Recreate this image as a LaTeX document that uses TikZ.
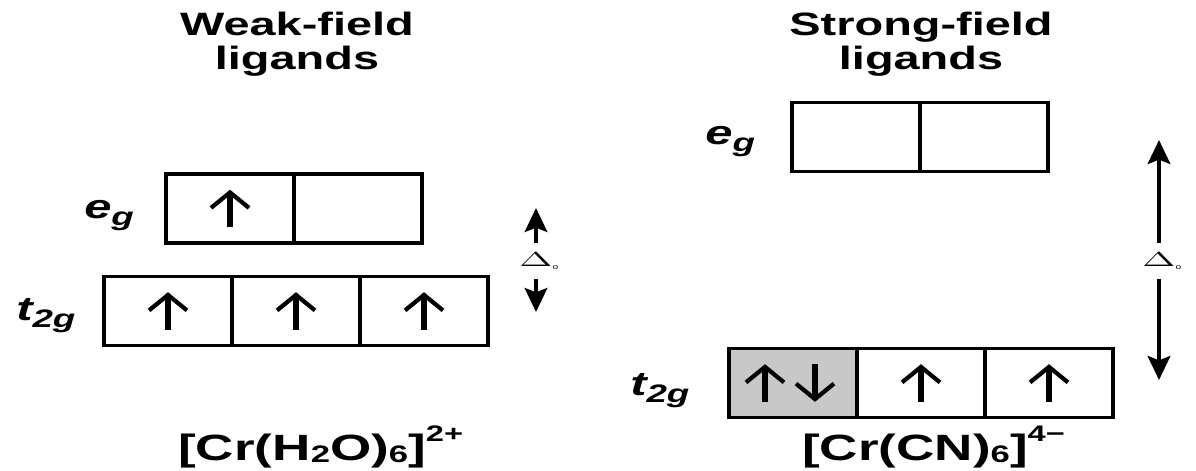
\documentclass[tikz,border=0pt]{standalone}
\usepackage{fontspec}
\setmainfont[FakeStretch=1.45]{Liberation Sans}
\usepackage{xcolor}
\definecolor{pairgray}{RGB}{200,200,200}
\usetikzlibrary{arrows.meta}
\newcommand{\lsub}[1]{\raisebox{-5pt}{\fontsize{18}{18}\selectfont #1}}
\newcommand{\csub}[1]{\raisebox{-2pt}{\fontsize{17}{17}\selectfont #1}}
\newcommand{\csup}[1]{\raisebox{13pt}{\fontsize{16}{16}\selectfont #1}}
\newcommand{\dlt}{\scalebox{2}[1]{\fontsize{14}{14}\selectfont$\Delta$}\rlap{\raisebox{-2pt}{\fontsize{5}{5}\selectfont o}}}

\begin{document}
\begin{tikzpicture}[
  x=0.025cm, y=-0.025cm,
  orb/.style={rectangle,draw,line width=2.5pt,minimum width=3.2cm,minimum height=1.725cm,inner sep=0pt},
  paired/.style={orb,fill=pairgray},
  spin/.style={line width=3.8pt,-{Straight Barb[length=11pt,width=27pt,line width=3pt]}},
  splitarrow/.style={line width=3pt,-{Stealth[length=17pt,width=16pt,inset=3pt]}},
  heading/.style={font=\fontsize{23}{24}\selectfont\bfseries,align=center,anchor=north,inner sep=0pt},
  lvl/.style={font=\fontsize{24}{24}\selectfont\bfseries\itshape,anchor=base west,inner sep=0pt},
  cplx/.style={font=\fontsize{26}{26}\selectfont\bfseries,anchor=base west,inner sep=0pt},
  dsplit/.style={inner sep=7pt}
]
  \useasboundingbox (0,0) rectangle (1196,470);

  % Headings
  \node[heading] (hweak) at (297,12) {Weak-field\\ligands};
  \node[heading] (hstrong) at (921,12) {Strong-field\\ligands};

  % Weak field: high spin
  \node[orb] (weg1) at (230,208.5) {};
  \node[orb] (weg2) at (358,208.5) {};
  \node[orb] (wt1) at (168,311) {};
  \node[orb] (wt2) at (296,311) {};
  \node[orb] (wt3) at (424,311) {};
  \node[lvl] (wegl) at (84,218) {e\lsub{g}};
  \node[lvl] (wtl) at (16,320) {t\lsub{2g}};
  \foreach \b in {weg1,wt1,wt2,wt3}
    \draw[spin] ([yshift=-0.47cm]\b.center) -- ([yshift=0.47cm]\b.center);

  % Strong field: low spin
  \node[orb] (seg1) at (856,137) {};
  \node[orb] (seg2) at (984,137) {};
  \node[paired] (st1) at (793,383) {};
  \node[orb] (st2) at (921,383) {};
  \node[orb] (st3) at (1049,383) {};
  \node[lvl] (segl) at (705,144) {e\lsub{g}};
  \node[lvl] (stl) at (630,395) {t\lsub{2g}};
  \foreach \b in {st2,st3}
    \draw[spin] ([yshift=-0.47cm]\b.center) -- ([yshift=0.47cm]\b.center);
  \draw[spin] ([xshift=-0.7cm,yshift=-0.47cm]st1.center) -- ([xshift=-0.7cm,yshift=0.47cm]st1.center);
  \draw[spin] ([xshift=0.55cm,yshift=0.47cm]st1.center) -- ([xshift=0.55cm,yshift=-0.47cm]st1.center);

  % Splitting energies
  \node[dsplit] (dw) at (536,261) {\dlt};
  \coordinate (dwtop) at (536,208);
  \coordinate (dwbot) at (536,312);
  \draw[splitarrow] (dw) -- (dwtop);
  \draw[splitarrow] (dw) -- (dwbot);
  \node[dsplit] (ds) at (1159,261) {\dlt};
  \coordinate (dstop) at (1159,140);
  \coordinate (dsbot) at (1159,380);
  \draw[splitarrow] (ds) -- (dstop);
  \draw[splitarrow] (ds) -- (dsbot);

  % Complexes
  \node[cplx] (cw) at (178,460) {[Cr(H\csub{2}O)\csub{6}]\csup{2+}};
  \node[cplx] (cs) at (802,460) {[Cr(CN)\csub{6}]\csup{4−}};
\end{tikzpicture}
\end{document}
